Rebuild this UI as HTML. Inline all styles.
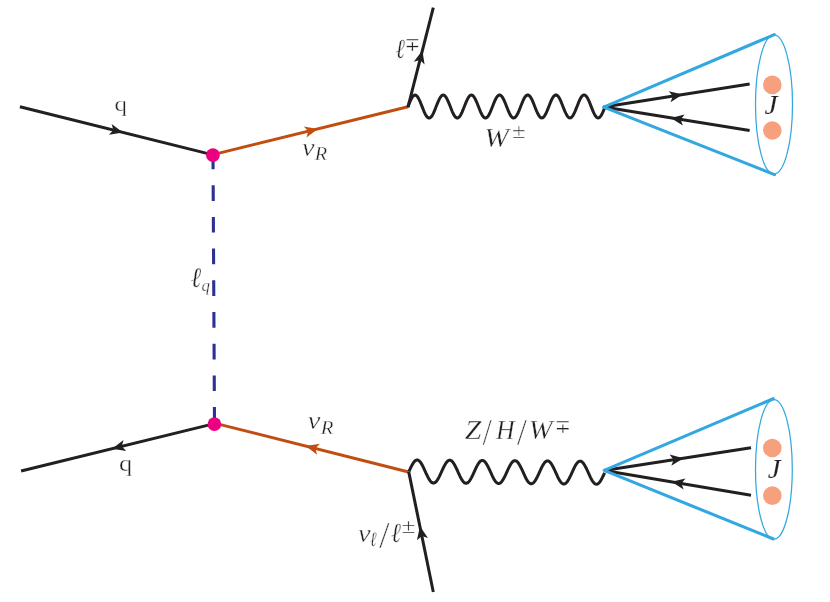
<!DOCTYPE html>
<html><head><meta charset="utf-8"><title>Feynman diagram</title>
<style>
html,body{margin:0;padding:0;background:#fff;}
svg{display:block;will-change:transform}
text{font-family:"Liberation Serif","DejaVu Serif",serif;fill:#231f20;stroke:#fff;stroke-width:0.35px}
.dj{font-family:"DejaVu Serif","DejaVu Sans",serif}
</style></head><body>
<svg width="830" height="602" viewBox="0 0 830 602">
<rect width="830" height="602" fill="#fff"/>
<line x1="213" y1="153.5" x2="214.5" y2="424" stroke="#2e3192" stroke-width="3.1" stroke-dasharray="15.7 16"/>
<line x1="19.9" y1="106.8" x2="213" y2="154.9" stroke="#231f20" stroke-width="3" />
<path d="M0 0 L-13.10 -5.60 L-9.90 0 L-13.10 5.60Z" fill="#231f20" transform="translate(122.99 132.48) rotate(13.99)"/>
<line x1="213" y1="154.6" x2="408" y2="106.8" stroke="#c24d10" stroke-width="3" />
<path d="M0 0 L-13.10 -5.60 L-9.90 0 L-13.10 5.60Z" fill="#c24d10" transform="translate(317.86 128.90) rotate(-13.77)"/>
<line x1="407.9" y1="107.3" x2="433.3" y2="7.7" stroke="#231f20" stroke-width="3" stroke-linecap="butt"/>
<path d="M0 0 L-13.10 -5.60 L-9.90 0 L-13.10 5.60Z" fill="#231f20" transform="translate(422.40 50.44) rotate(-75.69)"/>
<path d="M408.00 106.60 L408.59 105.10 L409.17 103.62 L409.76 102.20 L410.35 100.85 L410.93 99.60 L411.52 98.46 L412.11 97.47 L412.70 96.64 L413.28 95.97 L413.87 95.49 L414.46 95.19 L415.04 95.09 L415.63 95.19 L416.22 95.48 L416.80 95.97 L417.39 96.63 L417.98 97.47 L418.56 98.46 L419.15 99.59 L419.74 100.84 L420.32 102.19 L420.91 103.61 L421.50 105.09 L422.09 106.59 L422.67 108.09 L423.26 109.56 L423.85 110.98 L424.43 112.33 L425.02 113.58 L425.61 114.71 L426.19 115.71 L426.78 116.54 L427.37 117.20 L427.95 117.69 L428.54 117.98 L429.13 118.08 L429.72 117.98 L430.30 117.69 L430.89 117.20 L431.48 116.54 L432.06 115.70 L432.65 114.71 L433.24 113.58 L433.82 112.32 L434.41 110.97 L435.00 109.55 L435.58 108.07 L436.17 106.57 L436.76 105.07 L437.35 103.59 L437.93 102.17 L438.52 100.82 L439.11 99.57 L439.69 98.44 L440.28 97.44 L440.87 96.61 L441.45 95.94 L442.04 95.46 L442.63 95.16 L443.21 95.06 L443.80 95.16 L444.39 95.45 L444.98 95.94 L445.56 96.60 L446.15 97.44 L446.74 98.43 L447.32 99.56 L447.91 100.81 L448.50 102.16 L449.08 103.58 L449.67 105.06 L450.26 106.56 L450.84 108.06 L451.43 109.53 L452.02 110.96 L452.60 112.30 L453.19 113.55 L453.78 114.69 L454.37 115.68 L454.95 116.51 L455.54 117.18 L456.13 117.66 L456.71 117.95 L457.30 118.05 L457.89 117.95 L458.47 117.66 L459.06 117.17 L459.65 116.51 L460.23 115.67 L460.82 114.68 L461.41 113.55 L462.00 112.30 L462.58 110.95 L463.17 109.52 L463.76 108.04 L464.34 106.54 L464.93 105.04 L465.52 103.57 L466.10 102.14 L466.69 100.79 L467.28 99.54 L467.86 98.41 L468.45 97.42 L469.04 96.58 L469.62 95.91 L470.21 95.43 L470.80 95.13 L471.39 95.04 L471.97 95.13 L472.56 95.43 L473.15 95.91 L473.73 96.57 L474.32 97.41 L474.91 98.40 L475.49 99.53 L476.08 100.78 L476.67 102.13 L477.25 103.55 L477.84 105.03 L478.43 106.53 L479.02 108.03 L479.60 109.50 L480.19 110.93 L480.78 112.28 L481.36 113.53 L481.95 114.66 L482.54 115.65 L483.12 116.48 L483.71 117.15 L484.30 117.63 L484.88 117.92 L485.47 118.02 L486.06 117.92 L486.65 117.63 L487.23 117.14 L487.82 116.48 L488.41 115.64 L488.99 114.65 L489.58 113.52 L490.17 112.27 L490.75 110.92 L491.34 109.49 L491.93 108.02 L492.51 106.51 L493.10 105.01 L493.69 103.54 L494.28 102.11 L494.86 100.76 L495.45 99.51 L496.04 98.38 L496.62 97.39 L497.21 96.55 L497.80 95.88 L498.38 95.40 L498.97 95.11 L499.56 95.01 L500.14 95.10 L500.73 95.40 L501.32 95.88 L501.90 96.55 L502.49 97.38 L503.08 98.37 L503.67 99.50 L504.25 100.75 L504.84 102.10 L505.43 103.52 L506.01 105.00 L506.60 106.50 L507.19 108.00 L507.77 109.48 L508.36 110.90 L508.95 112.25 L509.53 113.50 L510.12 114.63 L510.71 115.62 L511.30 116.45 L511.88 117.12 L512.47 117.60 L513.06 117.90 L513.64 117.99 L514.23 117.89 L514.82 117.60 L515.40 117.12 L515.99 116.45 L516.58 115.61 L517.16 114.62 L517.75 113.49 L518.34 112.24 L518.93 110.89 L519.51 109.46 L520.10 107.99 L520.69 106.49 L521.27 104.98 L521.86 103.51 L522.45 102.08 L523.03 100.73 L523.62 99.48 L524.21 98.35 L524.79 97.36 L525.38 96.52 L525.97 95.86 L526.55 95.37 L527.14 95.08 L527.73 94.98 L528.32 95.08 L528.90 95.37 L529.49 95.85 L530.08 96.52 L530.66 97.35 L531.25 98.34 L531.84 99.47 L532.42 100.72 L533.01 102.07 L533.60 103.50 L534.18 104.97 L534.77 106.47 L535.36 107.97 L535.95 109.45 L536.53 110.87 L537.12 112.22 L537.71 113.47 L538.29 114.60 L538.88 115.59 L539.47 116.43 L540.05 117.09 L540.64 117.57 L541.23 117.87 L541.81 117.96 L542.40 117.87 L542.99 117.57 L543.58 117.09 L544.16 116.42 L544.75 115.58 L545.34 114.59 L545.92 113.46 L546.51 112.21 L547.10 110.86 L547.68 109.43 L548.27 107.96 L548.86 106.46 L549.44 104.96 L550.03 103.48 L550.62 102.05 L551.20 100.70 L551.79 99.45 L552.38 98.32 L552.97 97.33 L553.55 96.49 L554.14 95.83 L554.73 95.34 L555.31 95.05 L555.90 94.95 L556.49 95.05 L557.07 95.34 L557.66 95.82 L558.25 96.49 L558.83 97.32 L559.42 98.31 L560.01 99.45 L560.60 100.70 L561.18 102.04 L561.77 103.47 L562.36 104.94 L562.94 106.44 L563.53 107.94 L564.12 109.42 L564.70 110.84 L565.29 112.19 L565.88 113.44 L566.46 114.57 L567.05 115.56 L567.64 116.40 L568.23 117.06 L568.81 117.55 L569.40 117.84 L569.99 117.94 L570.57 117.84 L571.16 117.54 L571.75 117.06 L572.33 116.39 L572.92 115.56 L573.51 114.56 L574.09 113.43 L574.68 112.18 L575.27 110.83 L575.85 109.41 L576.44 107.93 L577.03 106.43 L577.62 104.93 L578.20 103.45 L578.79 102.03 L579.38 100.68 L579.96 99.42 L580.55 98.29 L581.14 97.30 L581.72 96.46 L582.31 95.80 L582.90 95.31 L583.48 95.02 L584.07 94.92 L584.66 95.02 L585.25 95.31 L585.83 95.80 L586.42 96.46 L587.01 97.29 L587.59 98.29 L588.18 99.42 L588.77 100.67 L589.35 102.02 L589.94 103.44 L590.53 104.91 L591.11 106.41 L591.70 107.91 L592.29 109.39 L592.88 110.81 L593.46 112.16 L594.05 113.41 L594.64 114.54 L595.22 115.53 L595.81 116.37 L596.40 117.03 L596.98 117.52 L597.57 117.81 L598.16 117.91 L598.74 117.81 L599.33 117.51 L599.92 117.03 L600.50 116.36 L601.09 115.53 L601.68 114.54 L602.27 113.40 L602.85 112.15 L603.44 110.80 L604.03 109.38 L604.61 107.90 L605.20 106.40" fill="none" stroke="#231f20" stroke-width="3" stroke-linejoin="round"/>
<line x1="214.4" y1="423.6" x2="21.1" y2="471.0" stroke="#231f20" stroke-width="3" />
<path d="M0 0 L-13.10 -5.60 L-9.90 0 L-13.10 5.60Z" fill="#231f20" transform="translate(112.13 448.68) rotate(166.22)"/>
<line x1="214.4" y1="423.1" x2="408.6" y2="472.0" stroke="#c24d10" stroke-width="3" />
<path d="M0 0 L-13.10 -5.60 L-9.90 0 L-13.10 5.60Z" fill="#c24d10" transform="translate(305.74 446.10) rotate(-165.87)"/>
<line x1="408.7" y1="471.6" x2="433.3" y2="592" stroke="#231f20" stroke-width="3" />
<path d="M0 0 L-13.10 -5.60 L-9.90 0 L-13.10 5.60Z" fill="#231f20" transform="translate(419.89 526.37) rotate(-101.55)"/>
<path d="M409.00 471.40 L409.68 469.90 L410.36 468.43 L411.04 467.01 L411.72 465.67 L412.40 464.42 L413.07 463.30 L413.75 462.31 L414.43 461.48 L415.11 460.82 L415.79 460.34 L416.47 460.05 L417.15 459.96 L417.83 460.06 L418.51 460.36 L419.19 460.85 L419.87 461.52 L420.55 462.36 L421.23 463.36 L421.90 464.49 L422.58 465.75 L423.26 467.10 L423.94 468.53 L424.62 470.01 L425.30 471.52 L425.98 473.02 L426.66 474.50 L427.34 475.93 L428.02 477.29 L428.70 478.54 L429.38 479.68 L430.05 480.67 L430.73 481.51 L431.41 482.19 L432.09 482.67 L432.77 482.97 L433.45 483.07 L434.13 482.98 L434.81 482.69 L435.49 482.21 L436.17 481.55 L436.85 480.72 L437.52 479.74 L438.20 478.61 L438.88 477.36 L439.56 476.02 L440.24 474.60 L440.92 473.13 L441.60 471.63 L442.28 470.14 L442.96 468.67 L443.64 467.25 L444.32 465.90 L445.00 464.66 L445.68 463.53 L446.35 462.54 L447.03 461.71 L447.71 461.05 L448.39 460.57 L449.07 460.29 L449.75 460.19 L450.43 460.29 L451.11 460.59 L451.79 461.08 L452.47 461.75 L453.15 462.59 L453.82 463.59 L454.50 464.72 L455.18 465.98 L455.86 467.33 L456.54 468.76 L457.22 470.24 L457.90 471.75 L458.58 473.26 L459.26 474.74 L459.94 476.17 L460.62 477.52 L461.30 478.78 L461.98 479.91 L462.65 480.91 L463.33 481.75 L464.01 482.42 L464.69 482.91 L465.37 483.21 L466.05 483.31 L466.73 483.21 L467.41 482.93 L468.09 482.45 L468.77 481.79 L469.45 480.96 L470.12 479.97 L470.80 478.84 L471.48 477.60 L472.16 476.25 L472.84 474.83 L473.52 473.36 L474.20 471.87 L474.88 470.37 L475.56 468.90 L476.24 467.48 L476.92 466.14 L477.60 464.89 L478.27 463.76 L478.95 462.78 L479.63 461.95 L480.31 461.29 L480.99 460.81 L481.67 460.52 L482.35 460.43 L483.03 460.53 L483.71 460.83 L484.39 461.31 L485.07 461.99 L485.75 462.83 L486.43 463.82 L487.10 464.96 L487.78 466.21 L488.46 467.57 L489.14 469.00 L489.82 470.48 L490.50 471.98 L491.18 473.49 L491.86 474.97 L492.54 476.40 L493.22 477.75 L493.90 479.01 L494.58 480.14 L495.25 481.14 L495.93 481.98 L496.61 482.65 L497.29 483.14 L497.97 483.44 L498.65 483.54 L499.33 483.45 L500.01 483.16 L500.69 482.68 L501.37 482.02 L502.05 481.19 L502.73 480.20 L503.40 479.08 L504.08 477.83 L504.76 476.49 L505.44 475.07 L506.12 473.60 L506.80 472.10 L507.48 470.60 L508.16 469.13 L508.84 467.71 L509.52 466.37 L510.20 465.12 L510.88 464.00 L511.55 463.01 L512.23 462.18 L512.91 461.52 L513.59 461.04 L514.27 460.75 L514.95 460.66 L515.63 460.76 L516.31 461.06 L516.99 461.55 L517.67 462.22 L518.35 463.06 L519.02 464.06 L519.70 465.19 L520.38 466.45 L521.06 467.80 L521.74 469.23 L522.42 470.71 L523.10 472.22 L523.78 473.72 L524.46 475.20 L525.14 476.63 L525.82 477.99 L526.50 479.24 L527.17 480.38 L527.85 481.37 L528.53 482.21 L529.21 482.89 L529.89 483.37 L530.57 483.67 L531.25 483.77 L531.93 483.68 L532.61 483.39 L533.29 482.91 L533.97 482.25 L534.65 481.42 L535.33 480.44 L536.00 479.31 L536.68 478.06 L537.36 476.72 L538.04 475.30 L538.72 473.83 L539.40 472.33 L540.08 470.84 L540.76 469.37 L541.44 467.95 L542.12 466.60 L542.80 465.36 L543.48 464.23 L544.15 463.24 L544.83 462.41 L545.51 461.75 L546.19 461.27 L546.87 460.99 L547.55 460.89 L548.23 460.99 L548.91 461.29 L549.59 461.78 L550.27 462.45 L550.95 463.29 L551.62 464.29 L552.30 465.42 L552.98 466.68 L553.66 468.03 L554.34 469.46 L555.02 470.94 L555.70 472.45 L556.38 473.96 L557.06 475.44 L557.74 476.87 L558.42 478.22 L559.10 479.48 L559.78 480.61 L560.45 481.61 L561.13 482.45 L561.81 483.12 L562.49 483.61 L563.17 483.91 L563.85 484.01 L564.53 483.91 L565.21 483.63 L565.89 483.15 L566.57 482.49 L567.25 481.66 L567.92 480.67 L568.60 479.54 L569.28 478.30 L569.96 476.95 L570.64 475.53 L571.32 474.06 L572.00 472.57 L572.68 471.07 L573.36 469.60 L574.04 468.18 L574.72 466.84 L575.40 465.59 L576.08 464.46 L576.75 463.48 L577.43 462.65 L578.11 461.99 L578.79 461.51 L579.47 461.22 L580.15 461.12 L580.83 461.23 L581.51 461.53 L582.19 462.01 L582.87 462.69 L583.55 463.53 L584.23 464.52 L584.90 465.66 L585.58 466.91 L586.26 468.27 L586.94 469.70 L587.62 471.18 L588.30 472.68 L588.98 474.19 L589.66 475.67 L590.34 477.10 L591.02 478.45 L591.70 479.71 L592.38 480.84 L593.05 481.84 L593.73 482.68 L594.41 483.35 L595.09 483.84 L595.77 484.14 L596.45 484.24 L597.13 484.15 L597.81 483.86 L598.49 483.38 L599.17 482.72 L599.85 481.89 L600.52 480.90 L601.20 479.78 L601.88 478.53 L602.56 477.19 L603.24 475.77 L603.92 474.30 L604.60 472.80" fill="none" stroke="#231f20" stroke-width="3" stroke-linejoin="round"/>
<circle cx="212.9" cy="155.1" r="6.9" fill="#ec0080"/>
<circle cx="214.4" cy="424.2" r="6.85" fill="#ec0080"/>
<line x1="603.7" y1="107.1" x2="749.65" y2="84.0" stroke="#231f20" stroke-width="3" />
<line x1="603.7" y1="107.1" x2="749.65" y2="130.6" stroke="#231f20" stroke-width="3" />
<path d="M0 0 L-13.10 -5.60 L-9.90 0 L-13.10 5.60Z" fill="#231f20" transform="translate(682.58 94.62) rotate(-8.99)"/>
<path d="M0 0 L-13.10 -5.60 L-9.90 0 L-13.10 5.60Z" fill="#231f20" transform="translate(670.81 117.90) rotate(-170.85)"/>
<ellipse cx="774" cy="104.45" rx="18.5" ry="69.45" fill="none" stroke="#33a8e0" stroke-width="1.25"/>
<polyline points="774.3,34.6 603.7,107.1 774.5,174.6" fill="none" stroke="#33a8e0" stroke-width="3.1" stroke-linejoin="round" stroke-linecap="round"/>
<circle cx="772.3" cy="84.9" r="9.3" fill="#f6a07e"/>
<circle cx="772.3" cy="130.5" r="9.3" fill="#f6a07e"/>
<line x1="604.2" y1="470.4" x2="751.0" y2="447.7" stroke="#231f20" stroke-width="3" />
<line x1="604.2" y1="470.4" x2="751.0" y2="495.2" stroke="#231f20" stroke-width="3" />
<path d="M0 0 L-13.10 -5.60 L-9.90 0 L-13.10 5.60Z" fill="#231f20" transform="translate(683.42 458.15) rotate(-8.79)"/>
<path d="M0 0 L-13.10 -5.60 L-9.90 0 L-13.10 5.60Z" fill="#231f20" transform="translate(671.64 481.79) rotate(-170.41)"/>
<ellipse cx="773.9" cy="469.35" rx="18.4" ry="69.85" fill="none" stroke="#33a8e0" stroke-width="1.25"/>
<polyline points="773.2,398.7 604.2,470.4 773.0,538.8" fill="none" stroke="#33a8e0" stroke-width="3.1" stroke-linejoin="round" stroke-linecap="round"/>
<circle cx="772.3" cy="448.0" r="9.3" fill="#f6a07e"/>
<circle cx="772.3" cy="495.6" r="9.3" fill="#f6a07e"/>
<g>
<text ><tspan x="114.55" y="111.39" font-size="21.91" textLength="12.45" lengthAdjust="spacingAndGlyphs" >q</tspan></text>
<text ><tspan x="118.99" y="470.60" font-size="22.77" textLength="13.23" lengthAdjust="spacingAndGlyphs" >q</tspan></text>
<text ><tspan x="301.91" y="155.51" font-size="24.53" textLength="12.54" lengthAdjust="spacingAndGlyphs" font-style="italic">ν</tspan><tspan x="314.76" y="159.75" font-size="19.47" textLength="12.38" lengthAdjust="spacingAndGlyphs" font-style="italic">R</tspan></text>
<text ><tspan x="307.81" y="429.41" font-size="24.43" textLength="12.54" lengthAdjust="spacingAndGlyphs" font-style="italic">ν</tspan><tspan x="320.66" y="433.85" font-size="19.47" textLength="12.68" lengthAdjust="spacingAndGlyphs" font-style="italic">R</tspan></text>
<text ><tspan x="190.70" y="287.08" font-size="28.14" textLength="10.47" lengthAdjust="spacingAndGlyphs" font-style="italic">ℓ</tspan><tspan x="201.59" y="291.12" font-size="17.54" textLength="8.46" lengthAdjust="spacingAndGlyphs" font-style="italic">q</tspan></text>
<text ><tspan x="395.39" y="57.98" font-size="27.84" textLength="9.37" lengthAdjust="spacingAndGlyphs" font-style="italic">ℓ</tspan><tspan x="404.60" y="51.00" font-size="19.30" textLength="15.79" lengthAdjust="spacingAndGlyphs" class="dj">∓</tspan></text>
<text ><tspan x="484.16" y="147.38" font-size="27.69" textLength="24.51" lengthAdjust="spacingAndGlyphs" font-style="italic">W</tspan><tspan x="512.12" y="137.70" font-size="20.09" textLength="13.73" lengthAdjust="spacingAndGlyphs" >±</tspan></text>
<text ><tspan x="464.69" y="439.15" font-size="26.88" textLength="16.62" lengthAdjust="spacingAndGlyphs" font-style="italic">Z</tspan><tspan x="483.86" y="445.17" font-size="38.87" textLength="6.11" lengthAdjust="spacingAndGlyphs" font-style="italic">/</tspan><tspan x="495.93" y="439.15" font-size="26.88" textLength="18.66" lengthAdjust="spacingAndGlyphs" font-style="italic">H</tspan><tspan x="518.34" y="445.17" font-size="38.87" textLength="6.60" lengthAdjust="spacingAndGlyphs" font-style="italic">/</tspan><tspan x="528.68" y="439.14" font-size="26.87" textLength="23.62" lengthAdjust="spacingAndGlyphs" font-style="italic">W</tspan><tspan x="554.85" y="432.80" font-size="18.98" textLength="16.20" lengthAdjust="spacingAndGlyphs" class="dj">∓</tspan></text>
<text ><tspan x="357.96" y="542.01" font-size="24.75" textLength="12.59" lengthAdjust="spacingAndGlyphs" font-style="italic">ν</tspan><tspan x="370.02" y="546.45" font-size="20.51" textLength="6.71" lengthAdjust="spacingAndGlyphs" font-style="italic">ℓ</tspan><tspan x="380.50" y="548.18" font-size="37.82" textLength="6.95" lengthAdjust="spacingAndGlyphs" font-style="italic">/</tspan><tspan x="390.96" y="542.33" font-size="27.84" textLength="9.90" lengthAdjust="spacingAndGlyphs" font-style="italic">ℓ</tspan><tspan x="401.54" y="533.10" font-size="21.42" textLength="14.04" lengthAdjust="spacingAndGlyphs" >±</tspan></text>
<text style="stroke-width:0.1px"><tspan x="764.61" y="114.28" font-size="27.24" textLength="13.00" lengthAdjust="spacingAndGlyphs" font-style="italic">J</tspan></text>
<text style="stroke-width:0.1px"><tspan x="767.71" y="478.48" font-size="27.84" textLength="12.81" lengthAdjust="spacingAndGlyphs" font-style="italic">J</tspan></text>
</g>
</svg>
</body></html>
